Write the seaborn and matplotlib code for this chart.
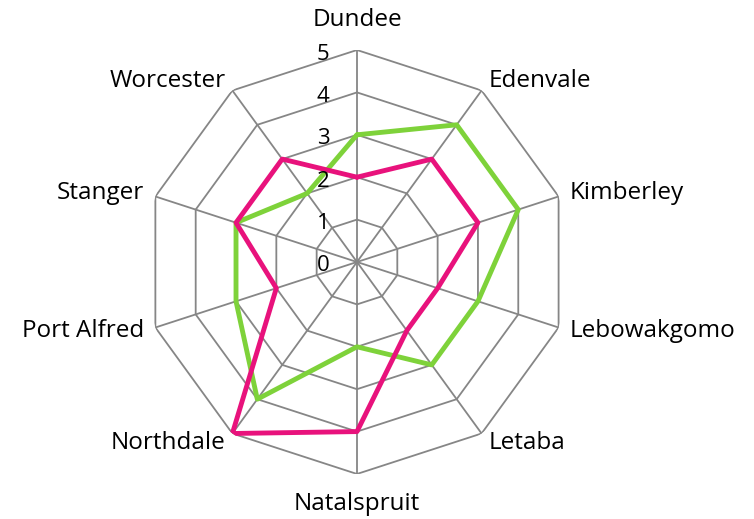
import numpy as np
import pandas as pd
import matplotlib
matplotlib.use('Agg')
import matplotlib.pyplot as plt
import seaborn as sns

# Data
categories = ['Dundee', 'Edenvale', 'Kimberley', 'Lebowakgomo', 'Letaba',
              'Natalspruit', 'Northdale', 'Port Alfred', 'Stanger', 'Worcester']
green_vals = [3, 4, 4, 3, 3, 2, 4, 3, 3, 2]
pink_vals = [2, 3, 3, 2, 2, 4, 5, 2, 3, 3]
ring_ticks = [0, 1, 2, 3, 4, 5]

sns.set_style('white')
plt.rcParams['font.family'] = ['Open Sans', 'DejaVu Sans']

n = len(categories)
angles = np.linspace(0, 2 * np.pi, n, endpoint=False)
closed_angles = np.append(angles, 2 * np.pi)

# long-form table, each polygon closed by repeating the first value
frames = []
for name, vals in [('green', green_vals), ('pink', pink_vals)]:
    frames.append(pd.DataFrame({'series': name,
                                'theta': closed_angles,
                                'value': vals + vals[:1]}))
df = pd.concat(frames, ignore_index=True)

fig = plt.figure(figsize=(7.54, 5.19), dpi=100)
ax = fig.add_axes([0.1923, 0.0867, 0.5623, 0.817], projection='polar')
ax.set_theta_zero_location('N')
ax.set_theta_direction(-1)
ax.set_ylim(0, 5)
ax.axis('off')

grid_col = '#868686'
# polygon rings
for r in ring_ticks[1:]:
    ax.plot(closed_angles, [r] * (n + 1), color=grid_col, lw=1.3, zorder=1)
# spokes
for a in angles:
    ax.plot([a, a], [0, 5], color=grid_col, lw=1.3, zorder=1)

sns.lineplot(data=df, x='theta', y='value', hue='series', sort=False,
             palette={'green': '#7ED23A', 'pink': '#E8127C'}, lw=3.5,
             legend=False, ax=ax, estimator=None, zorder=3)
ax.set_xlabel('')
ax.set_ylabel('')

# radial value labels
for r in ring_ticks:
    ax.annotate(str(r), xy=(0, r), xytext=(-34, -4), textcoords='offset pixels',
                ha='center', va='center', fontsize=16, color='black')

# category labels
for a, lab in zip(angles, categories):
    s, c = np.sin(a), np.cos(a)
    if abs(s) < 0.1:
        ha, off = 'center', (0, 30 * np.sign(c))
    else:
        ha = 'left' if s > 0 else 'right'
        off = (12 * s, 12 * c)
    ax.annotate(lab, xy=(a, 5), xytext=off, textcoords='offset pixels',
                ha=ha, va='center', fontsize=17.5, color='black')

fig.savefig('out.png', dpi=100)
